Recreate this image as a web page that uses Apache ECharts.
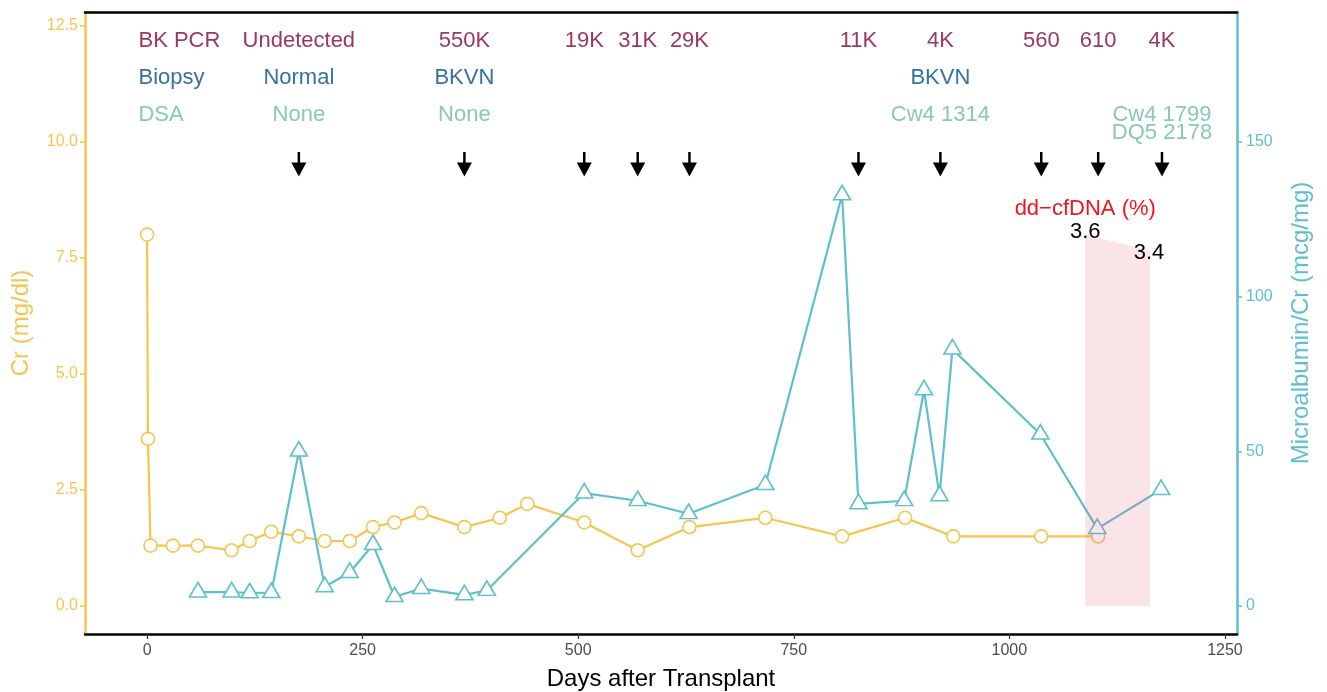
<!DOCTYPE html>
<html>
<head>
<meta charset="utf-8">
<script src="https://cdn.jsdelivr.net/npm/echarts@6/dist/echarts.min.js"></script>
<style>
html,body{margin:0;padding:0;background:#fff;}
#chart{width:1327px;height:692px;}
</style>
</head>
<body>
<div id="chart"></div>
<script>
// ---- data ----
const crDays   = [0, 1, 4, 30, 59, 98, 119, 144, 176, 206, 235, 262, 287, 318, 368, 409, 441, 507, 569, 629, 717, 806, 879, 935, 1037, 1103];
const crValues = [8.0, 3.6, 1.3, 1.3, 1.3, 1.2, 1.4, 1.6, 1.5, 1.4, 1.4, 1.7, 1.8, 2.0, 1.7, 1.9, 2.2, 1.8, 1.2, 1.7, 1.9, 1.5, 1.9, 1.5, 1.5, 1.5];

const maDays   = [59, 98, 119, 144, 176, 206, 235, 262, 287, 318, 368, 394, 507, 569, 628, 717, 806, 825, 878, 901, 919, 934, 1036, 1102, 1176];
const maValues = [4.5, 4.5, 4.2, 4.3, 50, 6.2, 10.8, 19.8, 3.0, 5.6, 3.6, 5.0, 36.5, 34, 29.8, 39.2, 132.8, 33, 34, 69.8, 35.6, 83, 55.5, 25, 37.6];

const headerLabels = ['BK PCR', 'Biopsy', 'DSA'];
const headerDay = -10;
const rowY = [12.18, 11.38, 10.58];

const bkDays   = [176, 368, 507, 569, 629, 825, 920, 1037, 1103, 1177];
const bkLabels = ['Undetected', '550K', '19K', '31K', '29K', '11K', '4K', '560', '610', '4K'];

const biopsyDays   = [176, 368, 920];
const biopsyLabels = ['Normal', 'BKVN', 'BKVN'];

const dsaDays   = [176, 368, 920, 1177];
const dsaLabels = ['None', 'None', 'Cw4 1314', 'Cw4 1799\nDQ5 2178'];

const arrowTop = 9.78, arrowTip = 9.25;

const ddDays    = [1088, 1163];
const ddValues  = [3.6, 3.4];
const ddBandTop = [8.0, 7.65];
const ddLabelY  = [8.06, 7.61];
const ddLabelDays = [1088, 1162];
const ddTitle = 'dd\u2212cfDNA (%)';
const ddTitleY = 8.56;

const xTicks  = [0, 250, 500, 750, 1000, 1250];
const crTicks = [0, 2.5, 5, 7.5, 10, 12.5];
const maTicks = [0, 50, 100, 150];

// ---- styles ----
const YELLOW = '#F6C550';
const TEAL = '#5EC0CD';
const ROW_COLORS = ['#983A60', '#3571A2', '#88CAB1'];
const FONT = 'Liberation Sans, Arial, Helvetica, sans-serif';
const ANN = 22;

function textSeries(points, color, extraLabel) {
  return {
    type: 'scatter', yAxisIndex: 0, silent: true, z: 6,
    symbolSize: 1, itemStyle: {color: 'rgba(0,0,0,0)', opacity: 1},
    data: points,
    label: Object.assign({
      show: true, position: 'inside', color: color, opacity: 1, fontSize: ANN, fontFamily: FONT,
      formatter: p => p.data.text
    }, extraLabel || {})
  };
}

const headerPts = headerLabels.map((t, i) => ({value: [headerDay, rowY[i]], text: t,
  label: {color: ROW_COLORS[i], align: 'left'}}));
const bkPts = bkDays.map((d, i) => ({value: [d, rowY[0]], text: bkLabels[i]}));
const biopsyPts = biopsyDays.map((d, i) => ({value: [d, rowY[1]], text: biopsyLabels[i]}));
const dsaPts = dsaDays.map((d, i) => {
  const o = {value: [d, rowY[2]], text: dsaLabels[i]};
  if (dsaLabels[i].indexOf('\n') >= 0) {
    o.label = {verticalAlign: 'top', lineHeight: 18.5, offset: [0, -9.25]};
  }
  return o;
});

const ddTextPts = [{value: [ddDays[0], ddTitleY], text: ddTitle, label: {color: '#F0161E'}}]
  .concat(ddValues.map((v, i) => ({value: [ddLabelDays[i], ddLabelY[i]], text: String(v), label: {color: '#000'}})));

const chart = echarts.init(document.getElementById('chart'), null, {renderer: 'canvas'});

const option = {
  backgroundColor: '#fff',
  animation: false,
  textStyle: {fontFamily: FONT},
  grid: {left: 85, right: 90, top: 12, bottom: 58, containLabel: false, outerBoundsMode: 'none'},
  xAxis: [{
    type: 'value', min: -72, max: 1264, position: 'bottom',
    name: 'Days after Transplant', nameLocation: 'middle', nameGap: 33,
    nameTextStyle: {color: '#000', fontSize: 24, fontFamily: FONT},
    axisLine: {onZero: false, lineStyle: {color: '#000', width: 2.5}},
    axisTick: {show: true, length: 5, lineStyle: {color: '#333', width: 1.2}, customValues: xTicks},
    axisLabel: {color: '#4D4D4D', fontSize: 16, margin: 9, fontFamily: FONT, customValues: xTicks,
      formatter: v => String(v)},
    splitLine: {show: false}
  }, {
    type: 'value', min: -72, max: 1264, position: 'top',
    axisLine: {show: true, onZero: false, lineStyle: {color: '#000', width: 2.5}},
    axisTick: {show: false}, axisLabel: {show: false}, splitLine: {show: false}
  }],
  yAxis: [{
    type: 'value', min: -0.603, max: 12.795, position: 'left',
    name: 'Cr (mg/dl)', nameLocation: 'middle', nameGap: 52, nameRotate: 90,
    nameTextStyle: {color: YELLOW, fontSize: 24, fontFamily: FONT},
    axisLine: {show: true, onZero: false, lineStyle: {color: YELLOW, width: 2.5}},
    axisTick: {show: true, length: 5, lineStyle: {color: YELLOW, width: 1.5}, customValues: crTicks},
    axisLabel: {color: YELLOW, fontSize: 16, margin: 7, fontFamily: FONT, customValues: crTicks,
      formatter: v => v.toFixed(1)},
    splitLine: {show: false}
  }, {
    type: 'value', min: -9.045, max: 191.925, position: 'right',
    name: 'Microalbumin/Cr (mcg/mg)', nameLocation: 'middle', nameGap: 52, nameRotate: 90,
    nameTextStyle: {color: TEAL, fontSize: 24, fontFamily: FONT},
    axisLine: {show: true, onZero: false, lineStyle: {color: TEAL, width: 2.5}},
    axisTick: {show: true, length: 5, lineStyle: {color: TEAL, width: 1.5}, customValues: maTicks},
    axisLabel: {color: TEAL, fontSize: 16, margin: 9, fontFamily: FONT, customValues: maTicks},
    splitLine: {show: false}
  }],
  series: [
    {
      type: 'line', name: 'Cr', xAxisIndex: 0, yAxisIndex: 0, z: 2,
      data: crDays.map((d, i) => [d, crValues[i]]),
      symbol: 'circle', symbolSize: 13, showAllSymbol: true,
      lineStyle: {color: YELLOW, width: 2.2},
      itemStyle: {color: '#fff', borderColor: YELLOW, borderWidth: 1.6},
      silent: true
    },
    {
      type: 'line', name: 'Microalbumin', xAxisIndex: 0, yAxisIndex: 1, z: 3,
      data: maDays.map((d, i) => [d, maValues[i]]),
      symbol: 'triangle', symbolSize: [17, 14.5], symbolOffset: [0, -2.4], showAllSymbol: true,
      lineStyle: {color: TEAL, width: 2.2},
      itemStyle: {color: '#fff', borderColor: TEAL, borderWidth: 1.6},
      silent: true
    },
    {
      type: 'custom', name: 'ddcfDNA', xAxisIndex: 0, yAxisIndex: 0, z: 4, silent: true,
      data: ddDays.map((d, i) => [d, ddBandTop[i]]),
      renderItem: function (params, api) {
        const i = params.dataIndex;
        if (i >= ddDays.length - 1) return null;
        const a0 = api.coord([ddDays[i], 0]);
        const a1 = api.coord([ddDays[i], ddBandTop[i]]);
        const b1 = api.coord([ddDays[i + 1], ddBandTop[i + 1]]);
        const b0 = api.coord([ddDays[i + 1], 0]);
        return {type: 'polygon', shape: {points: [a0, a1, b1, b0]},
          style: {fill: 'rgba(232, 90, 110, 0.16)'}};
      }
    },
    {
      type: 'custom', name: 'arrows', xAxisIndex: 0, yAxisIndex: 0, z: 5, silent: true,
      data: bkDays.map(d => [d, arrowTop]),
      renderItem: function (params, api) {
        const d = api.value(0);
        const top = api.coord([d, arrowTop]);
        const tip = api.coord([d, arrowTip]);
        return {type: 'group', children: [
          {type: 'line', shape: {x1: top[0], y1: top[1], x2: tip[0], y2: tip[1] - 8},
            style: {stroke: '#000', lineWidth: 2.5}},
          {type: 'polygon', shape: {points: [[tip[0] - 7.5, tip[1] - 14], [tip[0] + 7.5, tip[1] - 14], [tip[0], tip[1]]]},
            style: {fill: '#000'}}
        ]};
      }
    },
    textSeries(headerPts, ROW_COLORS[0]),
    textSeries(bkPts, ROW_COLORS[0]),
    textSeries(biopsyPts, ROW_COLORS[1]),
    textSeries(dsaPts, ROW_COLORS[2]),
    textSeries(ddTextPts, '#000')
  ]
};
chart.setOption(option);
</script>
</body>
</html>
